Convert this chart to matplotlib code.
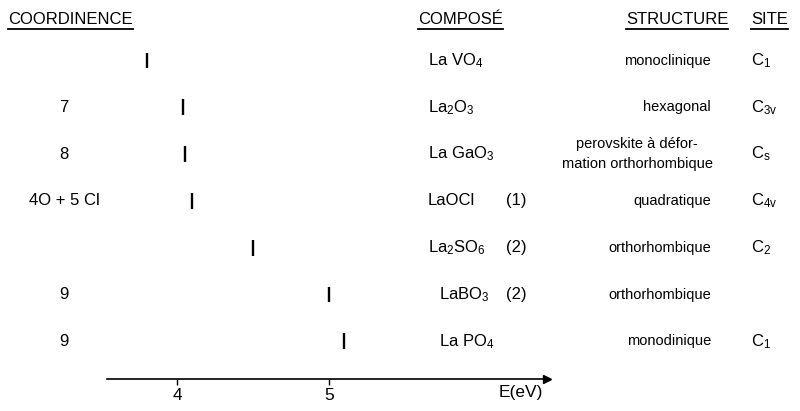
import matplotlib
matplotlib.use("Agg")
import matplotlib.pyplot as plt
import matplotlib.transforms as mtransforms
from matplotlib.lines import Line2D

plt.rcParams['font.family'] = ['Liberation Sans', 'DejaVu Sans']
plt.rcParams['mathtext.fontset'] = 'custom'
plt.rcParams['mathtext.rm'] = 'Liberation Sans'
plt.rcParams['mathtext.default'] = 'regular'

# Data
coordinence = ['', '7', '8', '4O + 5 Cl', '', '9', '9']
composes = ['La VO$_4$', 'La$_2$O$_3$', 'La GaO$_3$', 'LaOCl', 'La$_2$SO$_6$', 'LaBO$_3$', 'La PO$_4$']
refs = ['', '', '', '(1)', '(2)', '(2)', '']
structures = ['monoclinique', 'hexagonal', 'perovskite à défor-\nmation orthorhombique',
              'quadratique', 'orthorhombique', 'orthorhombique', 'monodinique']
sites = ['C$_1$', 'C$_{3v}$', 'C$_s$', 'C$_{4v}$', 'C$_2$', '', 'C$_1$']
energies = [3.80, 4.04, 4.05, 4.10, 4.50, 5.00, 5.10]
energy_ticks = [4, 5]
headers = ['COORDINENCE', 'COMPOSÉ', 'STRUCTURE', 'SITE']

W, H = 800, 411
rows = list(range(len(composes)))

fig = plt.figure(figsize=(W / 100, H / 100), dpi=100)

# energy axis: spans pixels x 107..547, bottom line at y 378.5
ax = fig.add_axes([107 / W, (H - 378.5) / H, 440 / W, (378.5 - 36) / H])
ax.set_xlim(4 + (107 - 177.3) / 152, 4 + (547 - 177.3) / 152)
ax.set_ylim((378.5 - 60.5) / 46.8, (36 - 60.5) / 46.8)
for s in ['top', 'left', 'right']:
    ax.spines[s].set_visible(False)
ax.spines['bottom'].set_linewidth(1.2)
ax.set_yticks([])
ax.set_xticks(energy_ticks)
ax.set_xticklabels([str(t) for t in energy_ticks], fontsize=12.5)
ax.tick_params(axis='x', direction='out', length=4, width=1, pad=3)
ax.plot(1, 0, marker='>', color='black', markersize=6, transform=ax.transAxes, clip_on=False)
ax.text(0.99, -0.04, 'E(eV)', transform=ax.transAxes, ha='right', va='center', fontsize=12.5)

# vertical marks for each compound
ax.vlines(energies, [r - 0.17 for r in rows], [r + 0.17 for r in rows], color='black', lw=1.7)

# table columns
tr = mtransforms.blended_transform_factory(fig.transFigure, ax.transData)
comp_x = [428, 428, 428, 428, 428, 439, 439]
for r in rows:
    ax.text(64 / W, r, coordinence[r], transform=tr, ha='center', va='center', fontsize=12)
    ax.text(comp_x[r] / W, r, composes[r], transform=tr, ha='left', va='center', fontsize=12)
    ax.text(506 / W, r, refs[r], transform=tr, ha='left', va='center', fontsize=12)
    if '\n' in structures[r]:
        ax.text(637 / W, r, structures[r], transform=tr, ha='center', va='center',
                fontsize=10.5, linespacing=1.55)
    else:
        ax.text(711 / W, r, structures[r], transform=tr, ha='right', va='center', fontsize=10.5)
    ax.text(751 / W, r, sites[r], transform=tr, ha='left', va='center', fontsize=12)

# headers, underlined
head_x = [8, 418, 626, 751]
head_objs = [fig.text(x / W, (H - 20) / H, h, ha='left', va='center', fontsize=12)
             for x, h in zip(head_x, headers)]
fig.canvas.draw()
inv = fig.transFigure.inverted()
for t in head_objs:
    bb = t.get_window_extent()
    (x0, y0), (x1, _) = inv.transform([(bb.x0, bb.y0 - 2), (bb.x1, bb.y0 - 2)])
    fig.add_artist(Line2D([x0, x1], [y0, y0], color='black', lw=1.3, transform=fig.transFigure))

fig.savefig('out.png', dpi=100, facecolor='white')
